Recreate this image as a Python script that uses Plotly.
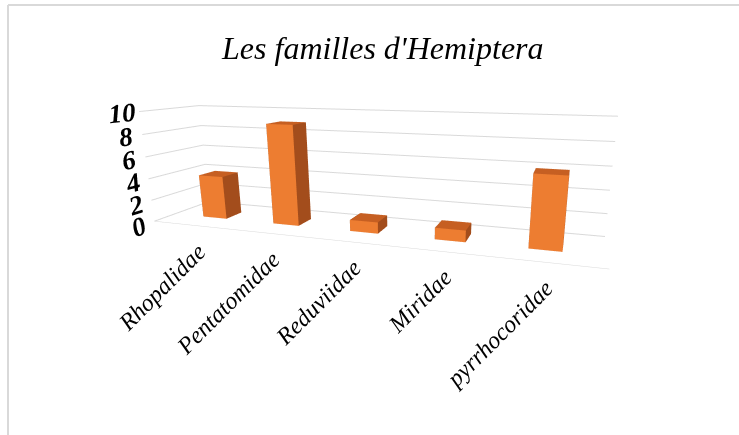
"""3D column chart: Les familles d'Hemiptera."""

import plotly.graph_objects as go

families = ["Rhopalidae", "Pentatomidae", "Reduviidae", "Miridae", "pyrrhocoridae"]
counts = [4, 9, 1, 1, 6]
z_ticks = [0, 2, 4, 6, 8, 10]

FRONT = "#ED7D31"
SIDE = "#A34D1C"
TOP = "#C65F22"
SERIF = "Liberation Serif, Times New Roman, serif"

# build one mesh of boxes, one box per family
xs, ys, zs, ii, jj, kk, colors = [], [], [], [], [], [], []
half_w, y0, y1 = 0.17, 0.35, 0.65
tris = [
    ((0, 1, 2), TOP), ((0, 2, 3), TOP),        # bottom (hidden)
    ((4, 5, 6), TOP), ((4, 6, 7), TOP),        # top
    ((0, 1, 5), FRONT), ((0, 5, 4), FRONT),    # front
    ((3, 2, 6), SIDE), ((3, 6, 7), SIDE),      # back
    ((0, 3, 7), SIDE), ((0, 7, 4), SIDE),      # left
    ((1, 2, 6), SIDE), ((1, 6, 5), SIDE),      # right
]
for n, h in enumerate(counts):
    base = len(xs)
    x0, x1 = n - half_w, n + half_w
    for vx, vy, vz in [(x0, y0, 0), (x1, y0, 0), (x1, y1, 0), (x0, y1, 0),
                       (x0, y0, h), (x1, y0, h), (x1, y1, h), (x0, y1, h)]:
        xs.append(vx)
        ys.append(vy)
        zs.append(vz)
    for (a, b, c), col in tris:
        ii.append(base + a)
        jj.append(base + b)
        kk.append(base + c)
        colors.append(col)

fig = go.Figure(go.Mesh3d(
    x=xs, y=ys, z=zs, i=ii, j=jj, k=kk, facecolor=colors, flatshading=True,
    lighting=dict(ambient=1, diffuse=0, specular=0, fresnel=0, roughness=1),
    hoverinfo="skip", showscale=False,
))

label_font = dict(family=SERIF, size=24, color="black", style="italic")
annotations = [
    dict(x=n, y=0, z=0, text=name, textangle=-45, showarrow=False,
         xanchor="right", yanchor="top", xshift=18, yshift=-10, font=label_font)
    for n, name in enumerate(families)
]

axis_common = dict(showbackground=False, showspikes=False, zeroline=False, title=dict(text=""))
fig.update_layout(
    width=739, height=435,
    margin=dict(l=0, r=0, t=0, b=0),
    paper_bgcolor="white",
    showlegend=False,
    title=dict(text="Les familles d'Hemiptera", x=0.518, y=0.89, xanchor="center",
               yanchor="middle",
               font=dict(family=SERIF, size=32, color="black", style="italic")),
    scene=dict(
        domain=dict(x=[0.106, 1.0], y=[0.0, 1.0]),
        xaxis=dict(range=[-0.6, 4.6], showgrid=False, showticklabels=False,
                   showline=True, linecolor="#D9D9D9", **axis_common),
        yaxis=dict(range=[0, 1], showgrid=False, showticklabels=False, showline=False,
                   **axis_common),
        zaxis=dict(range=[0, 10], tickvals=z_ticks,
                   ticktext=[f"<b><i>{t}</i></b>" for t in z_ticks],
                   gridcolor="#D9D9D9", showline=False,
                   tickfont=dict(family=SERIF, size=18, color="black"),
                   **axis_common),
        aspectmode="manual",
        aspectratio=dict(x=4.32, y=0.85, z=1.09),
        camera=dict(eye=dict(x=1.83, y=-4.5, z=0.95),
                    center=dict(x=0.4, y=0.0, z=-0.4),
                    projection=dict(type="perspective")),
        annotations=annotations,
    ),
    shapes=[
        dict(type="line", xref="paper", yref="paper", x0=8 / 739, x1=1, y0=1 - 5 / 435,
             y1=1 - 5 / 435, line=dict(color="#D9D9D9", width=2)),
        dict(type="line", xref="paper", yref="paper", x0=8 / 739, x1=8 / 739, y0=0,
             y1=1 - 5 / 435, line=dict(color="#D9D9D9", width=2)),
    ],
)

fig.write_html("out.html", config={"displayModeBar": False},
               post_script="document.body.style.margin = '0';")
